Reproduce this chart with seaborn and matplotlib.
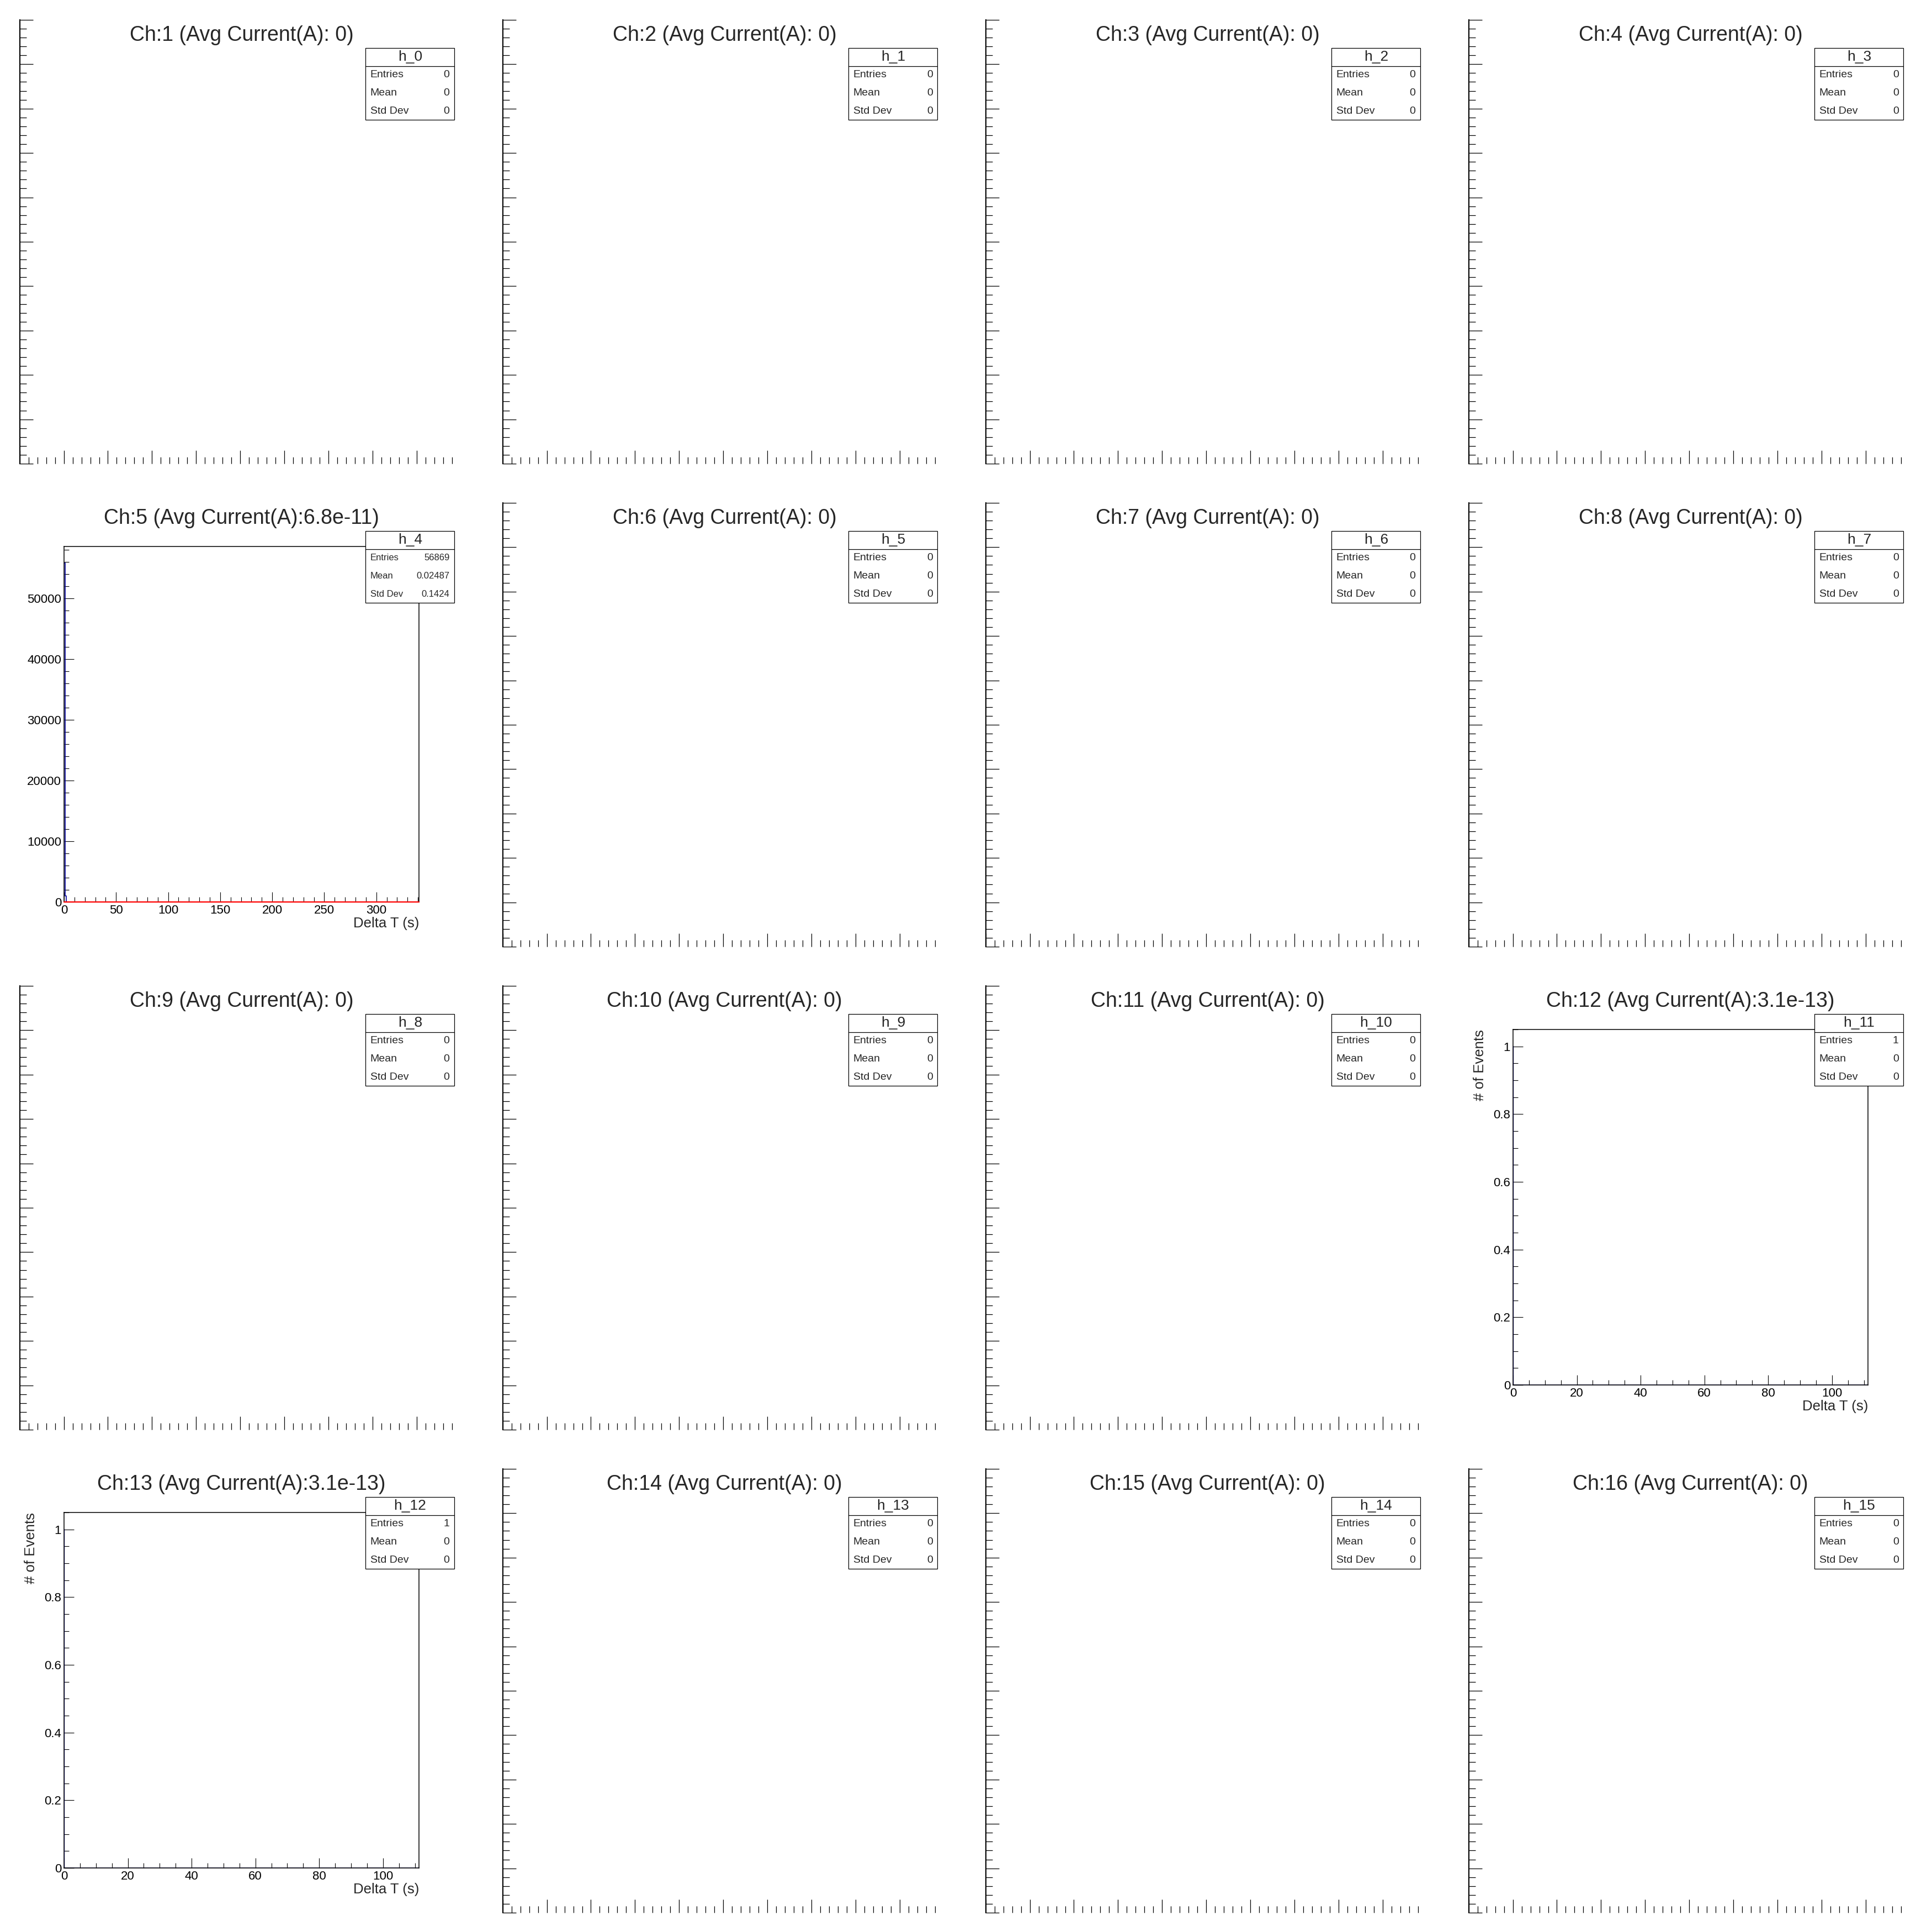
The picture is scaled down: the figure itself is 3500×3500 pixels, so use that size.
import numpy as np
import pandas as pd
import seaborn as sns
import matplotlib.pyplot as plt
from matplotlib.patches import Rectangle
from matplotlib.lines import Line2D
from matplotlib.ticker import MultipleLocator, FuncFormatter

# 4x4 canvas of delta-T histograms, one pad per channel
channels = list(range(1, 17))
current_labels = [' 0', ' 0', ' 0', ' 0', '6.8e-11', ' 0', ' 0', ' 0',
                  ' 0', ' 0', ' 0', '3.1e-13', '3.1e-13', ' 0', ' 0', ' 0']
hist_names = ['h_%d' % i for i in range(16)]
entries = ['0', '0', '0', '0', '56869', '0', '0', '0',
           '0', '0', '0', '1', '1', '0', '0', '0']
means = ['0', '0', '0', '0', '0.02487', '0', '0', '0',
         '0', '0', '0', '0', '0', '0', '0', '0']
std_devs = ['0', '0', '0', '0', '0.1424', '0', '0', '0',
            '0', '0', '0', '0', '0', '0', '0', '0']

# Ch:5 histogram (bin centres + counts), 1 s bins
ch5_x = [0.5, 1.5]
ch5_counts = [55856, 1030]
ch5_xmax = 341
ch5_ymax = 58590
# red function drawn on top of Ch:5
fit_x = [0, 341]
fit_y = [0, 0]

# Ch:12 and Ch:13 hold a single event at 0
single_x = [0.0]
single_counts = [1]
single_xmax = 111.3
single_ymax = 1.05

BLUE = '#000099'
DPI = 100

sns.set_theme(style='white')
plt.rcParams['font.family'] = ['Liberation Sans', 'DejaVu Sans']
plt.rcParams['axes.linewidth'] = 1.1

fig = plt.figure(figsize=(35, 35), dpi=DPI)
fig.patch.set_facecolor('white')


def cell_rect(row, col, l, b, w, h):
    x0 = col * 0.25
    y0 = 1 - (row + 1) * 0.25
    return [x0 + l * 0.25, y0 + b * 0.25, w * 0.25, h * 0.25]


def cell_xy(row, col, fx, fy):
    return col * 0.25 + fx * 0.25, 1 - (row + 1) * 0.25 + fy * 0.25


def gfmt(v, pos):
    return '%g' % v


def data_axes(row, col):
    ax = fig.add_axes(cell_rect(row, col, 0.1326, 0.1326, 0.7349, 0.736))
    ax.set_facecolor('white')
    for s in ax.spines.values():
        s.set_color('black')
        s.set_linewidth(1.1)
    ax.tick_params(which='both', direction='in', top=False, right=False,
                   bottom=True, left=True, colors='black', labelsize=16, pad=3.5)
    ax.tick_params(which='major', length=13, width=0.8)
    ax.tick_params(which='minor', length=6.8, width=0.8)
    ax.xaxis.set_major_formatter(FuncFormatter(gfmt))
    ax.yaxis.set_major_formatter(FuncFormatter(gfmt))
    return ax


def empty_axes(row, col):
    ax = fig.add_axes(cell_rect(row, col, 0.0406, 0.04, 0.905, 0.919))
    ax.set_facecolor('none')
    for k in ['top', 'right', 'bottom']:
        ax.spines[k].set_visible(False)
    ax.spines['left'].set_linewidth(1.5)
    ax.spines['left'].set_color('black')
    ax.set_xlim(0, 9.9)
    ax.set_ylim(0, 10)
    ax.xaxis.set_major_locator(MultipleLocator(1))
    ax.xaxis.set_minor_locator(MultipleLocator(0.2))
    ax.yaxis.set_major_locator(MultipleLocator(1))
    ax.yaxis.set_minor_locator(MultipleLocator(0.2))
    ax.tick_params(which='both', direction='in', top=False, right=False,
                   bottom=True, left=True,
                   labelleft=False, labelbottom=False, colors='black')
    ax.tick_params(which='major', length=17.5, width=0.9)
    ax.tick_params(which='minor', length=8.5, width=0.9)
    return ax


def stats_box(row, col, i, small=False):
    x0, y0 = cell_xy(row, col, 0.757, 0.752)
    x1, y1 = cell_xy(row, col, 0.941, 0.901)
    fig.add_artist(Rectangle((x0, y0), x1 - x0, y1 - y0, transform=fig.transFigure,
                             facecolor='white', edgecolor='black', lw=0.9, zorder=10))
    _, yl = cell_xy(row, col, 0, 0.863)
    fig.add_artist(Line2D([x0, x1], [yl, yl], transform=fig.transFigure,
                          color='black', lw=0.9, zorder=11))
    hx, hy = cell_xy(row, col, 0.849, 0.882)
    fig.text(hx, hy, hist_names[i], ha='center', va='center', fontsize=19, zorder=12)
    fs = 12 if small else 14
    rows = [('Entries', entries[i], 0.8446), ('Mean', means[i], 0.8075),
            ('Std Dev', std_devs[i], 0.770)]
    for lab, val, fy in rows:
        lx, ly = cell_xy(row, col, 0.7664, fy)
        rx, _ = cell_xy(row, col, 0.931, fy)
        fig.text(lx, ly, lab, ha='left', va='center', fontsize=fs, zorder=12)
        fig.text(rx, ly, val, ha='right', va='center', fontsize=fs, zorder=12)


ch5_df = pd.DataFrame({'dt': ch5_x, 'n': ch5_counts})
single_df = pd.DataFrame({'dt': single_x, 'n': single_counts})
fit_df = pd.DataFrame({'dt': fit_x, 'f': fit_y})
ch5_bins = list(range(0, ch5_xmax + 1))
single_bins = [b / 10 for b in range(0, int(single_xmax * 10) + 1)]

for i, ch in enumerate(channels):
    row, col = divmod(i, 4)
    tx, ty = cell_xy(row, col, 0.5, 0.927)
    fig.text(tx, ty, 'Ch:%d (Avg Current(A):%s)' % (ch, current_labels[i]),
             ha='center', va='center', fontsize=27)

    if ch == 5:
        ax = data_axes(row, col)
        sns.histplot(data=ch5_df, x='dt', weights='n', bins=ch5_bins,
                     element='step', fill=False, color=BLUE, linewidth=1.2, ax=ax)
        sns.lineplot(data=fit_df, x='dt', y='f', color='#ff0000', linewidth=1.6,
                     zorder=3, clip_on=False, ax=ax)
        ax.set_xlim(0, ch5_xmax)
        ax.set_ylim(0, ch5_ymax)
        ax.xaxis.set_major_locator(MultipleLocator(50))
        ax.xaxis.set_minor_locator(MultipleLocator(10))
        ax.yaxis.set_major_locator(MultipleLocator(10000))
        ax.yaxis.set_minor_locator(MultipleLocator(2000))
        ax.set_ylabel('')
        ax.set_xlabel('Delta T (s)', loc='right', fontsize=18.5, labelpad=1)
        stats_box(row, col, i, small=True)
    elif ch in (12, 13):
        ax = data_axes(row, col)
        sns.histplot(data=single_df, x='dt', weights='n', bins=single_bins,
                     element='step', fill=False, color=BLUE, linewidth=0.8,
                     zorder=1, ax=ax)
        ax.set_xlim(0, single_xmax)
        ax.set_ylim(0, single_ymax)
        ax.xaxis.set_major_locator(MultipleLocator(20))
        ax.xaxis.set_minor_locator(MultipleLocator(5))
        ax.yaxis.set_major_locator(MultipleLocator(0.2))
        ax.yaxis.set_minor_locator(MultipleLocator(0.05))
        ax.set_xlabel('Delta T (s)', loc='right', fontsize=18.5, labelpad=1)
        ax.set_ylabel('# of Events', loc='top', fontsize=18.5, labelpad=9)
        stats_box(row, col, i)
    else:
        empty_axes(row, col)
        stats_box(row, col, i)

fig.savefig('out.png', dpi=DPI, facecolor='white')
